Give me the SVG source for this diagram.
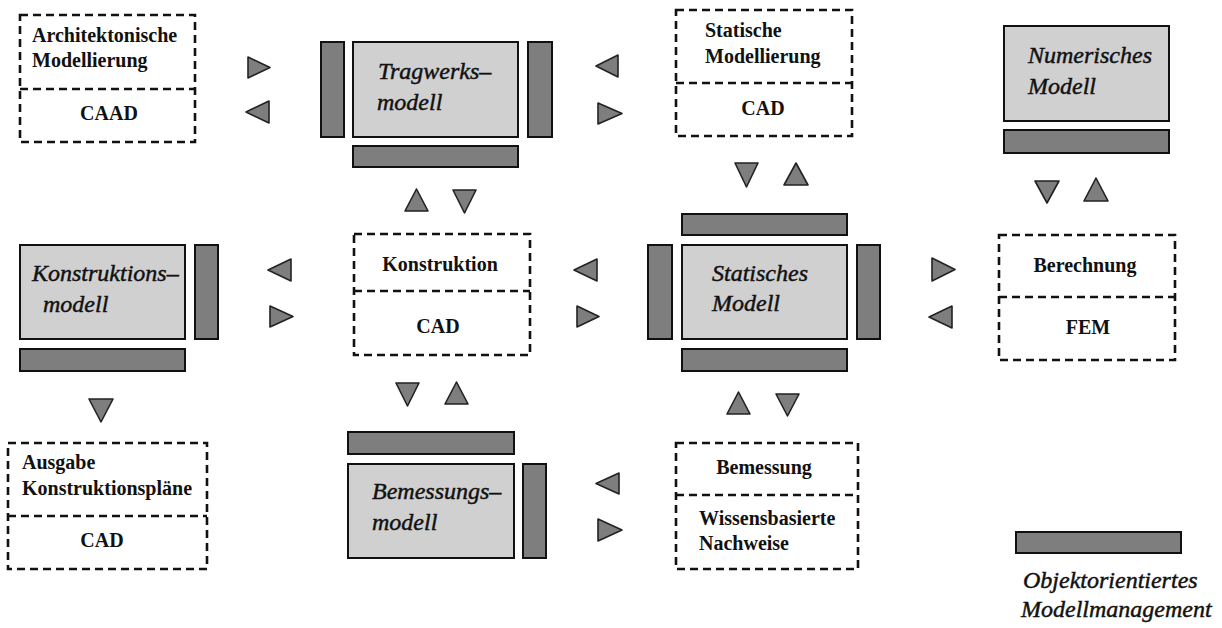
<svg xmlns="http://www.w3.org/2000/svg" width="1222" height="628" viewBox="0 0 1222 628">
<style>
.bg{fill:#ffffff}
.model{fill:#d0d0d0;stroke:#111;stroke-width:2}
.bar{fill:#7e7e7e;stroke:#111;stroke-width:2}
.dash{fill:none;stroke:#111;stroke-width:2.6;stroke-dasharray:8,5}
.tri{fill:#7e7e7e;stroke:#222;stroke-width:1.6;stroke-linejoin:round}
.b{font-family:"Liberation Serif","Times New Roman",serif;font-weight:bold;font-size:20px;fill:#111}
.i{font-family:"Liberation Serif","Times New Roman",serif;font-style:italic;font-size:24px;fill:#111;stroke:#111;stroke-width:0.45}
.m{text-anchor:middle}
</style>
<rect class="bg" x="0" y="0" width="1222" height="628"/>

<g id="architektonische">
<rect class="dash" x="20" y="15" width="175" height="127"/>
<line class="dash" x1="20" y1="89" x2="195" y2="89"/>
<text class="b" x="32" y="42">Architektonische</text>
<text class="b" x="32" y="67">Modellierung</text>
<text class="b m" x="109" y="120">CAAD</text>
</g>

<g id="tragwerksmodell">
<rect class="bar" x="321" y="42" width="23" height="95"/>
<rect class="model" x="353" y="42" width="165" height="95"/>
<rect class="bar" x="528" y="42" width="24" height="95"/>
<rect class="bar" x="353" y="146" width="165" height="21"/>
<text class="i" x="378" y="79">Tragwerks–</text>
<text class="i" x="377" y="110">modell</text>
</g>

<g id="statische-modellierung">
<rect class="dash" x="676" y="10" width="176" height="126"/>
<line class="dash" x1="676" y1="83" x2="852" y2="83"/>
<text class="b" x="705" y="37">Statische</text>
<text class="b" x="705" y="63">Modellierung</text>
<text class="b m" x="763" y="115">CAD</text>
</g>

<g id="numerisches-modell">
<rect class="model" x="1004" y="26" width="165" height="95"/>
<rect class="bar" x="1004" y="130" width="165" height="23"/>
<text class="i" x="1028" y="63">Numerisches</text>
<text class="i" x="1028" y="94">Modell</text>
</g>

<g id="konstruktionsmodell">
<rect class="model" x="20" y="245" width="165" height="94"/>
<rect class="bar" x="195" y="245" width="23" height="94"/>
<rect class="bar" x="20" y="349" width="165" height="22"/>
<text class="i" x="32" y="281">Konstruktions–</text>
<text class="i" x="43" y="312">modell</text>
</g>

<g id="konstruktion">
<rect class="dash" x="354" y="234" width="176" height="121"/>
<line class="dash" x1="354" y1="291" x2="530" y2="291"/>
<text class="b m" x="440" y="271">Konstruktion</text>
<text class="b m" x="438" y="333">CAD</text>
</g>

<g id="statisches-modell">
<rect class="bar" x="682" y="214" width="165" height="21"/>
<rect class="bar" x="648" y="245" width="24" height="94"/>
<rect class="model" x="682" y="245" width="165" height="94"/>
<rect class="bar" x="857" y="245" width="23" height="94"/>
<rect class="bar" x="682" y="349" width="165" height="22"/>
<text class="i" x="712" y="281">Statisches</text>
<text class="i" x="712" y="311">Modell</text>
</g>

<g id="berechnung">
<rect class="dash" x="999" y="235" width="176" height="125"/>
<line class="dash" x1="999" y1="297" x2="1175" y2="297"/>
<text class="b m" x="1085" y="272">Berechnung</text>
<text class="b m" x="1088" y="334">FEM</text>
</g>

<g id="ausgabe">
<rect class="dash" x="8" y="443" width="199" height="126"/>
<line class="dash" x1="8" y1="516" x2="207" y2="516"/>
<text class="b" x="22" y="469">Ausgabe</text>
<text class="b" x="22" y="495">Konstruktionspläne</text>
<text class="b m" x="102" y="547">CAD</text>
</g>

<g id="bemessungsmodell">
<rect class="bar" x="348" y="432" width="166" height="22"/>
<rect class="model" x="348" y="464" width="166" height="94"/>
<rect class="bar" x="523" y="464" width="23" height="94"/>
<text class="i" x="372" y="499">Bemessungs–</text>
<text class="i" x="372" y="530">modell</text>
</g>

<g id="bemessung">
<rect class="dash" x="676" y="443" width="182" height="126"/>
<line class="dash" x1="676" y1="495" x2="858" y2="495"/>
<text class="b m" x="764" y="474">Bemessung</text>
<text class="b" x="699" y="525">Wissensbasierte</text>
<text class="b" x="699" y="550">Nachweise</text>
</g>

<g id="legende">
<rect class="bar" x="1016" y="532" width="165" height="21"/>
<text class="i" x="1023" y="588">Objektorientiertes</text>
<text class="i" x="1021" y="617">Modellmanagement</text>
</g>

<g id="connectors">
<!-- Architektonische <-> Tragwerksmodell -->
<polygon class="tri" points="248,57 248,78 270,67.5"/>
<polygon class="tri" points="269,101 269,123 246,112"/>
<!-- Tragwerksmodell <-> Statische Modellierung -->
<polygon class="tri" points="618,55 618,77 596,66"/>
<polygon class="tri" points="598,103 598,124 622,113.5"/>
<!-- Statische Modellierung <-> Statisches Modell -->
<polygon class="tri" points="735,163 758,163 746.5,187"/>
<polygon class="tri" points="784,185 808,185 796,163"/>
<!-- Numerisches Modell <-> Berechnung -->
<polygon class="tri" points="1035,181 1059,181 1047,203"/>
<polygon class="tri" points="1084,201 1108,201 1096,178"/>
<!-- Tragwerksmodell <-> Konstruktion -->
<polygon class="tri" points="405,211 428,211 416.5,189"/>
<polygon class="tri" points="453,190 476,190 464.5,213"/>
<!-- Konstruktionsmodell <-> Konstruktion -->
<polygon class="tri" points="291,259 291,281 268,270"/>
<polygon class="tri" points="270,306 270,327 293,316.5"/>
<!-- Konstruktion <-> Statisches Modell -->
<polygon class="tri" points="597,259 597,281 574,270"/>
<polygon class="tri" points="577,306 577,327 599,316.5"/>
<!-- Statisches Modell <-> Berechnung -->
<polygon class="tri" points="932,258 932,281 955,269.5"/>
<polygon class="tri" points="952,306 952,328 929,317"/>
<!-- Konstruktionsmodell -> Ausgabe -->
<polygon class="tri" points="89,399 113,399 101,422"/>
<!-- Konstruktion <-> Bemessungsmodell -->
<polygon class="tri" points="396,383 419,383 407.5,406"/>
<polygon class="tri" points="445,404 468,404 456.5,382"/>
<!-- Statisches Modell <-> Bemessung -->
<polygon class="tri" points="727,414 750,414 738.5,392"/>
<polygon class="tri" points="776,394 799,394 787.5,416"/>
<!-- Bemessungsmodell <-> Bemessung -->
<polygon class="tri" points="619,473 619,494 596,483.5"/>
<polygon class="tri" points="598,519 598,541 622,530"/>
</g>
</svg>
